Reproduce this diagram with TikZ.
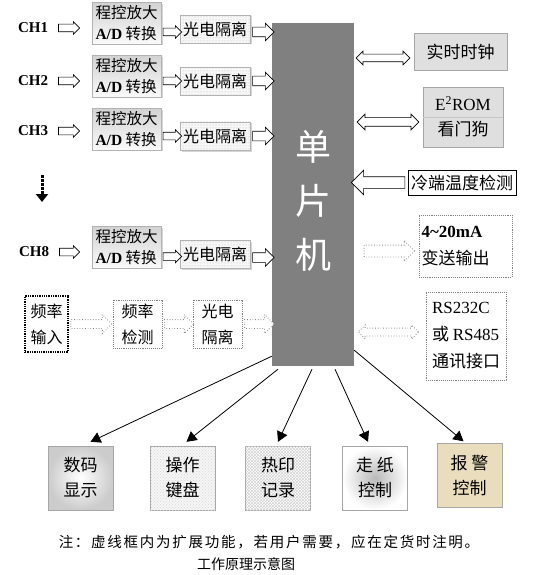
\documentclass[tikz,border=0pt]{standalone}
\usepackage{fontspec}
\setmainfont{Noto Sans CJK SC}
\newfontfamily\tms{Liberation Serif}
\usetikzlibrary{calc,arrows.meta,shapes.arrows,shadows,patterns}
\definecolor{alarmtan}{HTML}{E9DDBD}

\tikzset{
  blockto/.style={to path={let \p1=(\tikztostart), \p2=(\tikztotarget) in
    ($(\p1)!.5!(\p2)$) node[#1, minimum height={veclen(\x2-\x1,\y2-\y1)},
      rotate={atan2(\y2-\y1,\x2-\x1)}] {}}},
  hol/.style={single arrow, draw, fill=white, line width=0.7pt, inner xsep=0pt,
    inner ysep=3.5pt, single arrow head extend=2.5pt},
  holbig/.style={hol, inner ysep=4.5pt, single arrow head extend=4pt},
  holwide/.style={hol, inner ysep=5.5pt, single arrow head extend=6.5pt},
  dotarr/.style={hol, draw=gray, dotted, line width=0.9pt, inner ysep=4pt, single arrow head extend=5pt},
  dotwide/.style={dotarr, inner ysep=5.5pt, single arrow head extend=4.5pt},
  dbl/.style={double arrow, draw, fill=white, line width=0.7pt, inner xsep=0pt,
    inner ysep=3.5pt, double arrow head extend=3pt},
  dbldot/.style={dbl, draw=gray, dotted, line width=0.9pt},
  chan/.style={font=\fontsize{15}{17}\selectfont\tms\bfseries},
  amp/.style={draw=gray!60, top color=gray!35, bottom color=gray!4, minimum width=69pt,
    minimum height=40pt, align=left, inner xsep=2pt,
    font=\fontsize{15.5}{21}\selectfont,
    drop shadow={shadow xshift=1.5pt, shadow yshift=-1.5pt, fill=gray!65}},
  opto/.style={draw=gray!60, fill=gray!6, postaction={pattern=dots, pattern color=gray!55},
    minimum width=70pt, minimum height=28pt, inner sep=1pt,
    font=\fontsize{16}{18}\selectfont,
    drop shadow={shadow xshift=1.5pt, shadow yshift=-1.5pt, fill=gray!65}},
  chip/.style={fill=gray, minimum width=82pt, minimum height=343pt},
  chiptxt/.style={text=white, align=center, font=\fontsize{36}{54}\selectfont},
  ext/.style={draw=gray, densely dotted, line width=0.9pt, align=left, inner sep=1pt,
    font=\fontsize{17}{27}\selectfont},
  graybox/.style={draw=gray!70, fill=gray!25, align=center, font=\fontsize{17}{25}\selectfont,
    drop shadow={shadow xshift=1pt, shadow yshift=-1pt, fill=gray!50}},
  outbox/.style={draw=gray!70, minimum width=65pt, minimum height=64pt, align=center,
    font=\fontsize{17}{25}\selectfont},
  outarr/.style={-{Triangle[width=11pt,length=10pt]}, line width=0.8pt},
}

\begin{document}
\begin{tikzpicture}[x=1pt,y=-1pt]
\useasboundingbox (0,0) rectangle (539,575);

% microcontroller
\node[chip] (mcu) at (313,194.5) {};
\node[chiptxt] (mcutxt) at ([yshift=-6pt]mcu.center) {单\\片\\机};

% analog channels
\node[chan] (ch1) at (33,28) {CH1};
\node[chan] (ch2) at (33,81) {CH2};
\node[chan] (ch3) at (33,131) {CH3};
\node[chan] (ch8) at (34,252) {CH8};
\node[amp] (amp1) at (126.5,23) {程控放大\\{\tms\bfseries A/D} 转换};
\node[amp] (amp2) at (126.5,76) {程控放大\\{\tms\bfseries A/D} 转换};
\node[amp] (amp3) at (126.5,129) {程控放大\\{\tms\bfseries A/D} 转换};
\node[amp] (amp8) at (126.5,247) {程控放大\\{\tms\bfseries A/D} 转换};
\node[opto] (opto1) at (215,29) {光电隔离};
\node[opto] (opto2) at (215,81) {光电隔离};
\node[opto] (opto3) at (215,136) {光电隔离};
\node[opto] (opto8) at (215,254.5) {光电隔离};

\path ([xshift=5pt]ch1.east) to[blockto=hol] ([xshift=-14pt]ch1 -| amp1.west);
\path ([xshift=5pt]ch2.east) to[blockto=hol] ([xshift=-14pt]ch2 -| amp2.west);
\path ([xshift=5pt]ch3.east) to[blockto=hol] ([xshift=-14pt]ch3 -| amp3.west);
\path ([xshift=5pt]ch8.east) to[blockto=hol] ([xshift=-14pt]ch8 -| amp8.west);
\path ([yshift=-3pt]amp1.east |- opto1) to[blockto=hol] ([yshift=-3pt]opto1.west);
\path (amp2.east |- opto2) to[blockto=hol] (opto2.west);
\path (amp3.east |- opto3) to[blockto=hol] (opto3.west);
\path ([yshift=-2pt]amp8.east |- opto8) to[blockto=hol] ([yshift=-2pt]opto8.west);
\path ([yshift=-3pt]opto1.east) to[blockto=holbig] ([yshift=-3pt]opto1 -| mcu.west);
\path (opto2.east) to[blockto=holbig] (opto2 -| mcu.west);
\path (opto3.east) to[blockto=holbig] (opto3 -| mcu.west);
\path ([yshift=-3pt]opto8.east) to[blockto=holbig] ([yshift=-3pt]opto8 -| mcu.west);

% more channels
\coordinate (dots a) at (42,175);
\coordinate (dots b) at (42,202);
\draw[line width=3pt, dash pattern=on 2.5pt off 1.5pt, -{Triangle[width=12pt,length=8pt]}] (dots a) -- (dots b);

% frequency input
\node[ext, draw=black, line width=1.3pt, minimum width=43pt, minimum height=56pt, font=\fontsize{16}{26}\selectfont] (fin) at (46.5,324) {频率\\输入};
\node[ext, minimum width=49pt, minimum height=48pt, font=\fontsize{16}{26}\selectfont] (fdet) at (137.5,324) {频率\\检测};
\node[ext, minimum width=49pt, minimum height=48pt, font=\fontsize{16}{26}\selectfont] (fiso) at (217.5,324) {光电\\隔离};
\path (fin.east) to[blockto=dotarr] ([xshift=-3pt]fdet.west);
\path (fdet.east) to[blockto=dotarr] ([xshift=-1pt]fdet -| fiso.west);
\path (fiso.east) to[blockto=dotarr] (fiso -| mcu.west);

% peripherals
\node[graybox, minimum width=93pt, minimum height=37pt] (rtc) at (460.5,51.5) {实时时钟};
\node[graybox, minimum width=80pt, minimum height=60pt] (eeprom) at (463,117) {{\tms E\textsuperscript{2}ROM}\\看门狗};
\draw[gray!45] (eeprom.west) -- (eeprom.east);
\node[draw, fill=white, minimum width=108pt, minimum height=25pt, inner sep=1pt, font=\fontsize{17}{20}\selectfont] (cjc) at (462,182.5) {冷端温度检测};
\node[ext, minimum width=93pt, minimum height=62pt, text width=88pt] (out) at (465.5,246) {{\tms\bfseries 4\char"007E 20mA}\\变送输出};
\node[ext, minimum width=80pt, minimum height=88pt] (rs) at (466,336) {{\tms RS232C}\\或 {\tms RS485}\\通讯接口};

\path ([xshift=2pt,yshift=-6.5pt]rtc -| mcu.east) to[blockto=dbl] ([xshift=-4pt,yshift=-6.5pt]rtc.west);
\path ([xshift=3pt,yshift=-5pt]eeprom -| mcu.east) to[blockto={dbl, inner ysep=4pt, double arrow head extend=3.5pt}] ([xshift=-4pt,yshift=-5pt]eeprom.west);
\path (cjc.west) to[blockto=holwide] (cjc -| mcu.east);
\path ([xshift=7pt,yshift=-5pt]out -| mcu.east) to[blockto=dotwide] ([xshift=-7pt,yshift=-5pt]out.west);
\path ([xshift=4pt,yshift=4pt]rs -| mcu.east) to[blockto=dbldot] ([xshift=-7pt,yshift=4pt]rs.west);

% outputs
\node[outbox, shading=radial, inner color=white, outer color=gray!40] (disp) at (80.5,478) {数码\\显示};
\node[outbox, fill=gray!8, postaction={pattern=crosshatch dots, pattern color=gray!30}] (keys) at (182.5,478) {操作\\键盘};
\node[outbox, fill=white, postaction={pattern=crosshatch, pattern color=gray!35}] (prn) at (278,478) {热印\\记录};
\node[outbox, shading=radial, inner color=gray!55, outer color=white] (feed) at (375,478) {走 纸\\控制};
\node[outbox, fill=alarmtan] (alarm) at (469.5,475.5) {报 警\\控制};

\draw[outarr] ([yshift=10pt]mcu.south west) -- ([xshift=10pt,yshift=4pt]disp.north);
\draw[outarr] ([xshift=-35pt,yshift=-3pt]mcu.south) -- ([xshift=4pt,yshift=4pt]keys.north);
\draw[outarr] ([xshift=-1pt,yshift=-3pt]mcu.south) -- ([yshift=4pt]prn.north);
\draw[outarr] ([xshift=22pt,yshift=-3pt]mcu.south) -- ([xshift=-7pt,yshift=4pt]feed.north);
\draw[outarr] ([yshift=16pt]mcu.south east) -- ([xshift=-6pt,yshift=2pt]alarm.north);

% notes
\node[font=\fontsize{14.5}{16}\selectfont\addfontfeatures{LetterSpace=12}] (note) at (269,542) {注：虚线框内为扩展功能，若用户需要，应在定货时注明。};
\node[font=\fontsize{14}{16}\selectfont] (title) at (246,564) {工作原理示意图};
\end{tikzpicture}
\end{document}
